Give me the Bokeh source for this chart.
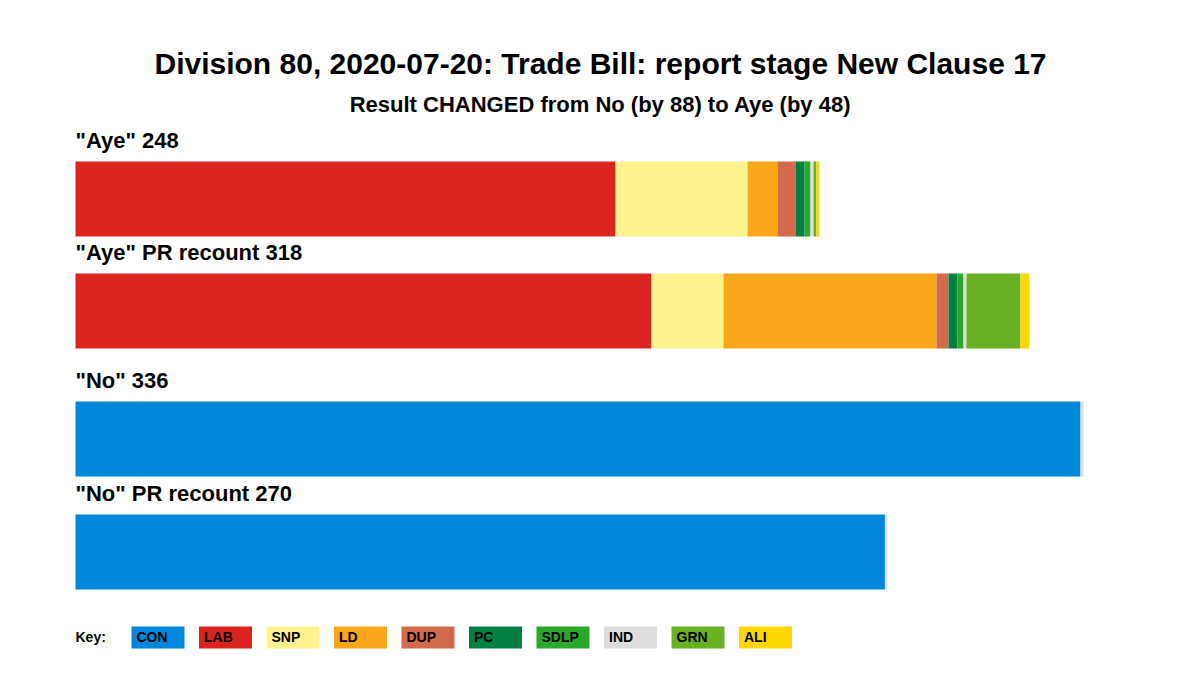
from bokeh.plotting import figure
from bokeh.models import Range1d, ColumnDataSource
from bokeh.core.properties import value
from bokeh.embed import file_html
from bokeh.resources import INLINE

# ---- data ----
parties = ["CON", "LAB", "SNP", "LD", "DUP", "PC", "SDLP", "IND", "GRN", "ALI"]
colors = ["#0087DC", "#DC241F", "#FDF38E", "#FAA61A", "#D46A4C",
          "#008142", "#2AA82C", "#DDDDDD", "#6AB023", "#FFD700"]

bar_names = ['"Aye"', '"Aye" PR recount', '"No"', '"No" PR recount']
bar_totals = [248, 318, 336, 270]
aye = [0, 180, 44, 10, 6, 3, 2, 1, 1, 1]
aye_pr = [0, 192, 24, 71, 4, 3, 2, 1, 18, 3]
no = [335, 0, 0, 0, 0, 0, 0, 1, 0, 0]
no_pr = [269.8, 0, 0, 0, 0, 0, 0, 0.8, 0, 0]
series = [aye, aye_pr, no, no_pr]

title = "Division 80, 2020-07-20: Trade Bill: report stage New Clause 17"
subtitle = "Result CHANGED from No (by 88) to Aye (by 48)"

# ---- layout (pixel space: y from top, x in votes with 3 px per vote) ----
PX0 = 75.0
PXV = 3.0
def vx(px):
    return (px - PX0) / PXV

def by(baseline_px, size):
    # empirical correction so the glyph baseline lands at baseline_px
    return baseline_px - 0.4 * size

p = figure(width=1200, height=675, x_range=Range1d(vx(0), vx(1200)),
           y_range=Range1d(675, 0), min_border=0, toolbar_location=None,
           output_backend="svg")
p.axis.visible = False
p.grid.visible = False
p.outline_line_color = None
p.background_fill_color = "white"

font = value("Liberation Sans")

bar_tops = [161, 273, 401, 514]
bar_h = 75

seg = dict(left=[], right=[], y=[], color=[])
for vals, top in zip(series, bar_tops):
    cum = 0.0
    for v, c in zip(vals, colors):
        if v > 0:
            seg["left"].append(cum)
            seg["right"].append(cum + v)
            seg["y"].append(top + bar_h / 2)
            seg["color"].append(c)
            cum += v
p.hbar(y="y", left="left", right="right", height=bar_h, color="color",
       line_color=None, source=ColumnDataSource(seg))

# bar labels
LS = 22
lab = dict(x=[0] * 4, y=[by(t - 12, LS) for t in bar_tops],
           text=[f"{n} {t}" for n, t in zip(bar_names, bar_totals)])
p.text(x="x", y="y", text="text", source=ColumnDataSource(lab),
       text_font=font, text_font_style="bold", text_font_size=f"{LS}px",
       text_baseline="alphabetic", text_align="left", text_color="black")

# title & subtitle
p.text(x=[vx(600)], y=[by(75, 30)], text=[title], text_font=font,
       text_font_style="bold", text_font_size="30px",
       text_baseline="alphabetic", text_align="center", text_color="black")
p.text(x=[vx(600)], y=[by(113, 22)], text=[subtitle], text_font=font,
       text_font_style="bold", text_font_size="22px",
       text_baseline="alphabetic", text_align="center", text_color="black")

# key
KS = 14
p.text(x=[vx(75)], y=[by(642, KS)], text=["Key:"], text_font=font,
       text_font_style="bold", text_font_size=f"{KS}px",
       text_baseline="alphabetic", text_align="left", text_color="black")
kl = [vx(131 + i * 67.5) for i in range(len(parties))]
kr = [vx(131 + i * 67.5 + 53) for i in range(len(parties))]
key = ColumnDataSource(dict(left=kl, right=kr, top=[626] * len(parties),
                            bottom=[648] * len(parties), color=colors,
                            tx=[vx(136 + i * 67.5) for i in range(len(parties))],
                            ty=[by(642, KS)] * len(parties), text=parties))
p.quad(left="left", right="right", top="top", bottom="bottom",
       color="color", line_color=None, source=key)
p.text(x="tx", y="ty", text="text", source=key, text_font=font,
       text_font_style="bold", text_font_size=f"{KS}px",
       text_baseline="alphabetic", text_align="left", text_color="black")

open("out.html", "w").write(file_html(p, INLINE))
